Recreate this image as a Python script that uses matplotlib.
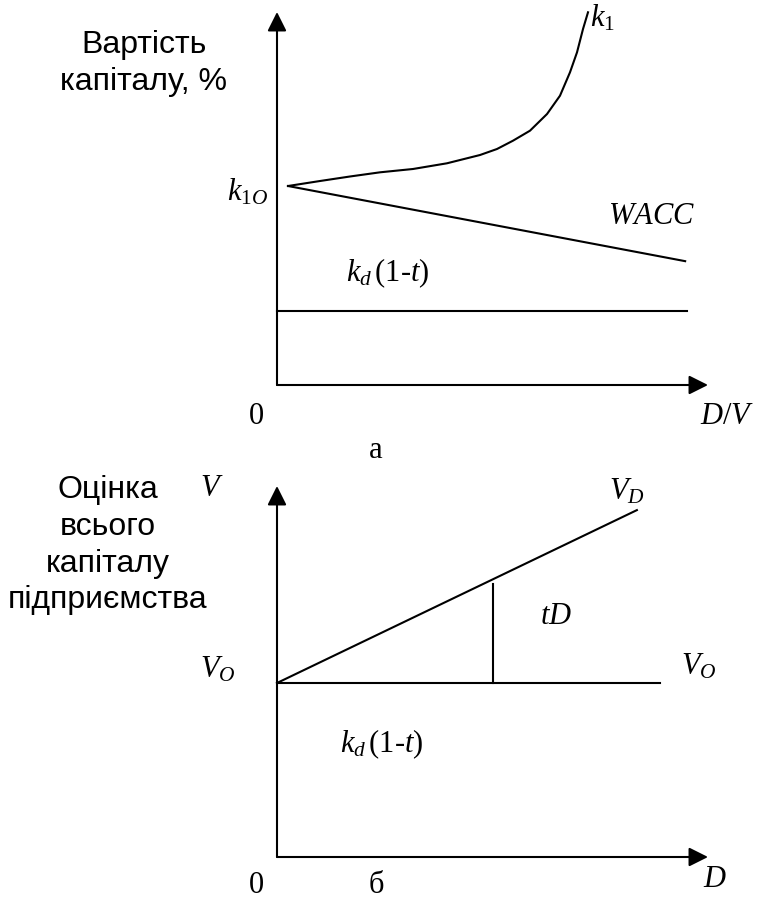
import matplotlib
matplotlib.use('Agg')
import matplotlib.pyplot as plt

W, H = 758, 904

plt.rcParams['mathtext.fontset'] = 'custom'
plt.rcParams['mathtext.rm'] = 'Liberation Serif'
plt.rcParams['mathtext.it'] = 'Liberation Serif:italic'

# --- panel a: cost of capital vs D/V (schematic units 0..100) ---
k1_x = [2.55, 9.98, 16.94, 23.90, 31.55, 39.44, 47.10, 51.04, 54.76, 58.70,
        62.65, 65.66, 67.98, 69.61, 71.00, 72.16]
k1_y = [53.35, 54.69, 55.90, 57.02, 57.91, 59.44, 61.66, 63.27, 65.50, 68.18,
        72.65, 77.56, 83.83, 89.19, 95.44, 99.92]
wacc_x = [2.55, 94.7]
wacc_y = [53.35, 33.2]
kd_x = [0, 95.1]
kd_y = [19.8, 19.8]

# --- panel б: firm value vs D ---
vo_x = [0, 88.9]
vo_y = [46.9, 46.9]
vd_x = [0, 83.5]
vd_y = [46.9, 93.5]
td_x = [50.1, 50.1]
td_y = [46.9, 73.6]

LW = 1.5
fig = plt.figure(figsize=(W / 100, H / 100), dpi=100)


def panel(top_px, bottom_px):
    ax = fig.add_axes([277 / W, 1 - bottom_px / H, 431 / W, (bottom_px - top_px) / H])
    ax.set_xlim(0, 100)
    ax.set_ylim(0, 100)
    ax.axis('off')
    arr = dict(arrowstyle='-|>,head_length=0.58,head_width=0.29', mutation_scale=20,
               lw=LW, color='black', shrinkA=0, shrinkB=0)
    ax.annotate('', xy=(0, 100), xytext=(0, 0), arrowprops=arr, annotation_clip=False)
    ax.annotate('', xy=(100, 0), xytext=(0, 0), arrowprops=arr, annotation_clip=False)
    return ax


def label(x, y, s, size=22, ha='center', va='center'):
    fig.text(x / W, 1 - y / H, s, fontsize=size, ha=ha, va=va, family='Liberation Serif')


def sans(x, y, s):
    fig.text(x / W, 1 - y / H, s, fontsize=23, ha='center', va='baseline', family='Liberation Sans')


ax1 = panel(13, 386)
ax1.plot(k1_x, k1_y, color='black', lw=LW, clip_on=False, solid_joinstyle='round')
ax1.plot(wacc_x, wacc_y, color='black', lw=LW, clip_on=False)
ax1.plot(kd_x, kd_y, color='black', lw=LW, clip_on=False)

ax2 = panel(487, 858)
ax2.plot(vo_x, vo_y, color='black', lw=LW, clip_on=False)
ax2.plot(vd_x, vd_y, color='black', lw=LW, clip_on=False)
ax2.plot(td_x, td_y, color='black', lw=LW, clip_on=False)

# panel a labels
sans(144, 53, 'Вартість')
sans(144, 90, 'капіталу, %')
label(590, 18, r'$k_1$', ha='left')
label(268, 192, r'$k_{\mathrm{1}O}$', ha='right')
label(652, 217, r'$WACC$')
label(388, 273, r'$k_d\,(1\text{-}t)$')
label(256, 417, '0')
label(727, 417, r'$D/V$')
label(376, 451, 'а')

# panel б labels
for s, yb in zip(['Оцінка', 'всього', 'капіталу', 'підприємства'], [498, 535, 572, 608]):
    sans(108, yb, s)
label(212, 489, r'$V$')
label(218, 670, r'$V_O$')
label(627, 492, r'$V_D$')
label(556, 617, r'$tD$')
label(699, 667, r'$V_O$')
label(382, 744, r'$k_d\,(1\text{-}t)$')
label(256, 886, '0')
label(376, 886, 'б')
label(715, 880, r'$D$')

fig.savefig('out.png', dpi=100)
